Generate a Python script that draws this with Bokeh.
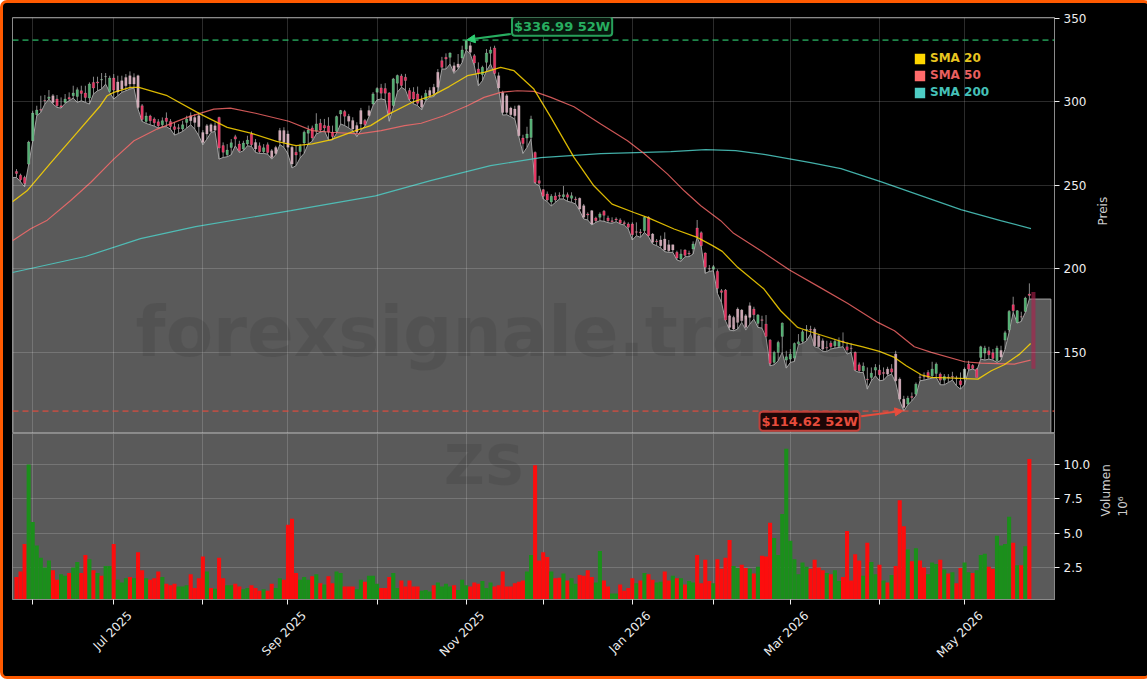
import math
from bokeh.embed import file_html
from bokeh.layouts import column
from bokeh.models import Arrow, FixedTicker, Label, Legend, LegendItem, LinearAxis, NormalHead, Range1d, Span
from bokeh.plotting import figure
from bokeh.resources import INLINE

opens = [258.3,256.1,254.7,262.7,276.7,292.3,295.4,300.9,302.0,303.7,
         301.7,297.7,299.7,302.7,303.7,303.3,306.7,305.3,302.3,311.7,
         312.0,313.1,315.1,306.3,314.3,312.0,312.7,314.7,315.7,314.7,
         315.7,297.7,288.3,291.5,289.7,288.1,286.3,290.3,288.3,285.1,
         284.5,283.7,287.7,291.7,290.7,291.7,281.7,285.7,286.3,285.7,
         290.7,273.8,268.3,272.7,279.1,274.7,271.7,274.7,280.7,275.7,
         273.7,270.1,274.3,270.7,272.7,282.8,282.8,280.8,272.8,269.8,
         270.2,275.4,281.2,284.4,282.4,287.2,285.8,285.6,281.8,282.4,
         292.8,294.2,291.4,288.8,285.8,294.8,288.8,294.8,298.8,305.8,
         308.4,308.0,305.4,297.8,311.2,315.6,314.8,306.8,306.0,304.8,
         301.2,301.2,306.8,308.8,317.8,324.7,326.7,326.7,321.7,322.7,
         326.3,331.5,333.7,327.7,319.7,316.3,323.7,329.1,332.3,315.7,
         305.7,303.7,296.3,295.7,297.7,278.3,278.3,278.7,269.7,252.8,
         247.4,244.8,240.0,243.6,244.0,243.2,244.4,242.2,241.8,242.2,
         237.8,232.8,234.8,230.4,230.8,234.4,230.4,228.8,229.8,229.2,
         227.6,226.8,226.8,222.2,222.0,222.8,230.8,220.8,216.6,217.2,
         217.8,214.4,214.4,209.8,205.8,211.2,209.2,211.8,224.4,221.6,
         209.4,200.0,199.6,198.4,186.8,187.2,171.8,170.8,175.8,175.2,
         171.8,177.8,175.8,167.2,169.4,166.8,157.2,143.8,149.8,159.4,
         145.2,145.8,146.4,154.8,156.4,163.2,163.6,163.8,159.8,156.8,
         152.8,155.4,153.8,153.4,156.6,153.2,152.4,149.8,142.4,138.8,
         133.8,134.8,139.2,139.2,137.8,139.8,140.0,148.8,133.8,121.8,
         118.8,123.4,124.8,135.0,135.4,137.8,135.8,137.2,136.8,133.2,
         135.0,135.4,134.4,132.8,134.4,142.8,142.0,139.8,146.8,149.4,
         150.8,149.6,144.8,151.0,157.2,163.2,178.4,167.8,171.2,174.4,
         184.8]
closes = [257.1,253.3,251.1,275.9,293.3,295.1,295.0,300.5,303.0,299.7,
          297.7,296.9,301.7,301.7,305.3,307.3,305.1,302.7,310.7,308.3,
          311.3,313.4,315.3,314.3,307.1,306.0,307.7,309.7,310.7,310.7,
          296.7,289.5,291.5,288.7,287.5,285.7,288.7,288.3,285.3,283.5,
          284.0,286.3,289.7,288.7,287.7,285.1,275.7,280.7,282.3,283.0,
          272.3,269.8,271.1,275.5,277.7,270.7,275.3,277.1,274.3,271.7,
          270.1,272.5,269.7,266.7,269.1,276.8,275.8,272.8,262.8,268.2,
          273.4,281.8,283.2,278.4,286.8,283.2,284.4,282.0,279.2,291.2,
          294.8,291.4,288.4,283.8,281.8,286.8,286.4,291.8,304.8,308.0,
          305.2,305.2,292.8,313.8,315.8,309.8,312.8,301.6,301.8,299.2,
          296.8,305.2,303.8,305.0,308.8,320.7,325.7,329.3,318.3,320.7,
          331.1,336.7,329.7,323.3,317.3,320.7,329.3,331.1,317.1,308.3,
          293.7,293.7,292.3,291.7,279.7,275.1,280.7,289.7,251.7,251.2,
          243.4,241.2,243.4,241.2,243.4,244.4,242.8,243.8,241.4,235.8,
          230.8,232.2,226.8,228.8,232.8,232.0,228.8,228.2,229.2,227.4,
          227.0,224.8,220.4,221.8,221.6,230.8,219.8,215.8,216.2,213.8,
          211.2,210.8,211.2,206.4,208.8,208.0,208.8,214.8,219.2,213.8,
          200.8,199.8,201.2,188.2,185.8,169.2,164.8,163.8,167.8,168.8,
          164.8,170.8,172.4,172.2,169.0,159.4,143.2,149.8,155.8,167.4,
          147.2,148.8,155.2,156.2,162.2,163.6,163.2,153.8,153.2,151.8,
          152.4,153.2,156.4,156.4,156.0,151.2,152.2,139.2,138.8,141.6,
          133.4,137.4,140.8,136.4,137.2,136.8,138.0,132.8,121.8,116.8,
          122.4,122.8,130.8,134.8,135.2,134.8,139.8,142.8,133.2,135.4,
          134.6,135.0,134.0,130.4,139.8,139.8,140.2,134.8,153.2,152.4,
          148.4,146.2,152.4,147.0,161.6,174.4,174.8,174.8,171.0,182.4,
          184.0]
highs = [259.7,257.0,255.7,276.7,294.7,297.7,303.7,304.1,307.1,304.7,
         304.1,302.7,304.7,305.7,309.7,308.7,309.7,309.7,311.7,315.1,
         315.1,317.3,317.3,315.7,316.7,315.7,315.7,316.7,318.3,317.1,
         316.3,298.7,293.7,292.3,290.7,289.7,290.7,293.7,289.7,287.7,
         286.7,288.7,291.7,293.7,292.7,293.7,283.1,286.7,287.1,287.7,
         291.1,275.7,274.7,277.7,280.3,276.7,276.7,279.7,282.3,277.7,
         275.7,274.7,275.7,271.7,273.7,284.4,284.8,282.8,273.8,273.8,
         274.8,282.8,285.8,285.8,293.2,289.8,289.8,290.8,285.8,291.8,
         295.2,295.2,292.8,290.8,287.8,296.4,289.8,297.8,305.8,308.8,
         310.8,311.2,305.8,314.4,316.4,316.8,316.8,308.4,308.8,309.2,
         303.8,307.2,308.8,310.8,319.7,327.0,329.1,329.7,323.7,328.7,
         333.7,336.99,335.7,328.7,323.7,321.7,331.7,333.1,333.7,317.7,
         306.7,304.7,297.1,297.7,298.3,280.3,285.1,291.7,270.3,255.7,
         247.7,246.3,244.7,245.7,245.8,249.6,245.7,245.8,243.2,242.7,
         238.8,233.8,235.2,231.2,233.8,235.2,231.8,230.8,230.8,230.2,
         228.8,227.8,227.8,227.8,223.8,231.4,231.4,221.4,217.8,219.8,
         221.8,217.2,214.4,210.8,211.6,211.6,210.8,216.4,229.2,222.4,
         209.8,202.2,202.2,199.6,187.8,187.8,172.8,171.8,176.8,175.8,
         172.8,179.8,177.2,172.8,171.8,172.2,157.8,150.8,156.8,167.8,
         150.8,151.8,155.8,160.8,163.2,166.2,165.8,164.8,160.8,158.2,
         156.8,156.8,157.8,158.8,161.8,155.8,155.2,150.4,143.8,143.8,
         140.8,140.8,142.8,142.4,140.8,141.2,142.8,150.8,134.8,123.8,
         123.8,125.8,131.8,136.8,137.8,139.2,144.2,143.8,137.8,136.8,
         136.8,138.2,135.8,137.8,140.8,144.8,142.8,140.4,153.8,153.8,
         153.2,151.8,153.8,153.8,162.8,175.2,183.2,175.2,174.2,183.2,
         191.2]
lows = [254.7,252.1,249.1,262.3,276.3,291.7,293.7,298.7,301.7,298.7,
        296.7,296.3,299.1,300.7,302.3,299.7,300.7,299.7,298.7,304.7,
        306.7,307.7,310.7,305.7,301.7,303.7,305.7,306.7,307.7,308.3,
        295.7,288.3,287.1,286.3,285.5,284.3,285.1,285.1,283.7,280.1,
        281.1,282.3,284.3,286.3,283.7,279.7,274.3,277.7,281.7,282.3,
        265.7,266.7,267.1,268.3,273.7,269.7,270.7,273.7,273.3,269.7,
        269.1,269.1,268.7,265.7,268.3,274.4,272.8,268.8,260.4,261.8,
        266.4,269.2,274.8,276.4,280.8,281.8,282.8,277.2,277.2,281.2,
        286.8,285.8,284.4,282.8,279.2,282.8,285.6,291.2,297.8,301.2,
        301.8,301.2,288.4,296.8,305.8,308.8,307.2,300.8,298.8,297.8,
        295.2,300.8,302.8,303.2,306.4,319.7,319.7,322.7,317.1,319.7,
        323.7,331.1,328.7,321.7,309.7,312.7,318.7,322.7,316.7,307.7,
        292.1,292.3,291.1,289.7,279.1,269.1,272.7,277.7,251.1,249.8,
        241.8,240.2,237.6,239.7,241.8,241.8,240.4,239.8,238.8,234.8,
        229.8,229.2,226.2,227.8,228.8,228.4,227.6,227.2,228.2,226.8,
        226.2,223.8,217.2,219.8,218.8,221.8,219.2,214.8,213.8,212.4,
        210.2,209.8,209.8,205.2,204.4,207.2,207.2,208.8,218.8,213.2,
        197.2,198.4,198.8,185.2,179.8,168.8,163.2,162.8,163.8,167.8,
        163.2,166.8,169.8,164.8,164.4,158.8,141.8,142.4,144.8,149.8,
        140.4,143.8,144.4,154.4,155.2,156.8,160.8,153.2,152.4,150.4,
        150.4,151.8,152.4,152.8,153.2,148.8,149.8,138.8,137.8,137.8,
        127.8,132.8,135.8,132.8,133.2,135.8,136.8,131.8,120.8,114.62,
        118.4,120.8,123.8,132.8,133.2,133.8,134.4,134.8,130.4,130.4,
        131.8,133.2,129.8,127.8,130.4,139.2,139.8,138.8,145.8,145.2,
        145.8,145.2,143.8,145.2,151.8,161.8,173.8,167.4,168.4,173.8,
        181.8]
pale_bars = [9,25,26,27,28,29,30,43,44,45,46,47,48,49,59,63,64,65,66,67,68,
             82,83,84,85,87,100,102,103,104,108,109,112,119,120,121,122,123,124,
             139,140,142,157,159,160,161,162,176,177,178,179,180,181,197,198,199,
             215,217,218,219,234,243]

volumes = [1.8,2.2,4.2,10.0,5.8,4.1,3.2,2.5,3.0,2.3,
           1.6,2.0,1.9,2.1,2.5,2.9,2.1,3.4,3.1,2.3,
           2.1,1.9,2.6,2.6,4.2,1.6,1.4,1.7,1.8,1.7,
           3.6,2.3,1.7,1.6,1.7,2.2,1.8,1.3,1.2,1.3,
           1.1,1.1,1.2,2.0,1.0,1.7,3.3,2.2,1.0,0.95,
           3.2,1.7,1.2,1.2,1.3,1.1,0.9,1.0,1.2,1.0,
           0.8,0.9,0.8,1.3,1.0,1.7,1.6,5.6,6.05,2.1,
           1.6,1.8,1.6,1.85,2.0,1.35,1.25,1.85,1.35,2.2,
           2.1,1.1,1.1,1.1,0.9,1.6,1.45,1.9,1.9,1.3,
           1.0,1.0,1.8,2.1,1.0,1.55,1.1,1.55,1.1,1.1,
           0.8,0.85,0.75,1.2,1.4,1.1,1.3,1.1,1.2,0.85,
           1.6,1.2,1.1,1.4,1.3,1.5,1.0,1.4,1.1,1.2,
           2.2,1.1,1.1,1.35,1.45,1.55,2.2,3.4,9.95,3.0,
           3.6,3.25,2.2,1.7,1.75,2.05,1.55,1.7,1.3,1.95,
           1.9,2.3,1.8,1.4,3.7,1.55,1.1,0.6,0.6,1.25,
           0.8,1.0,1.7,1.35,1.55,2.1,2.0,1.6,1.4,1.45,
           2.2,1.55,1.9,1.7,1.7,1.25,1.5,1.4,3.4,1.35,
           3.05,1.5,1.35,3.1,2.4,3.2,4.5,2.6,2.45,2.7,
           2.45,2.4,2.05,2.55,3.35,3.3,5.75,4.65,3.4,6.4,
           11.15,4.45,3.1,2.0,2.85,2.55,2.4,3.05,2.5,2.3,
           2.1,2.0,2.3,1.5,1.8,5.15,1.55,3.45,3.0,1.9,
           4.3,2.9,2.0,2.7,1.55,1.4,1.95,2.6,7.4,5.5,
           3.8,2.95,3.9,3.0,2.5,2.0,2.85,2.75,3.05,2.35,
           2.05,2.15,1.35,2.45,2.85,2.15,2.1,2.3,3.4,3.5,
           2.55,2.4,4.8,4.1,4.2,6.2,4.3,2.65,2.65,4.05,
           10.4]
vol_up = [0,0,0,1,1,1,1,1,1,0, 0,1,1,0,1,1,0,0,1,0, 1,0,1,1,0,1,1,1,0,1,
          0,0,1,0,0,0,1,0,0,0, 1,1,1,0,0,0,0,1,0,1, 0,0,1,1,0,0,1,1,0,0,
          0,1,0,0,1,1,0,0,0,0, 1,1,1,0,1,0,1,0,0,1, 1,0,0,0,1,1,0,1,1,1,
          0,0,0,1,1,0,0,0,0,0, 1,1,1,0,1,1,1,1,0,1, 1,1,0,0,0,1,1,1,0,0,
          0,0,0,0,0,0,1,1,0,0, 0,0,1,0,0,1,0,1,1,0, 0,0,0,1,1,0,0,1,1,0,
          0,0,0,1,0,1,0,0,1,1, 0,0,1,0,1,0,1,1,0,0, 0,0,1,0,0,0,0,1,1,0,
          0,1,0,1,0,0,0,1,1,1, 1,1,1,1,1,1,0,0,0,0, 1,0,1,1,0,0,0,0,0,1,
          0,1,1,0,1,0,1,0,0,0, 1,0,1,0,0,1,1,1,0,1, 0,1,0,0,1,1,0,1,1,1,
          0,0,1,1,1,1,0,1,0,1,0]

sma20_x = [-1,2.6,8.4,15,20.7,22.4,24,28.1,30.2,37.2,45.4,52,57.8,64.2,69,73,77.5,83.7,87.4,92,
           97.7,102.6,106.8,111.3,115.4,119.5,122.8,127.7,131.9,137.6,142.5,147,152.4,155.7,162.3,
           168,171.8,174.2,178,184.5,188.6,192.8,195.2,204.3,208.9,213,216.7,219.6,223.3,225.8,
           231.5,237.3,240.6,243.8,247.6,250.3]
sma20 = [240.1,246.7,263.3,281.7,297.7,303.7,305.7,308.7,308.7,303.7,292.7,284.7,281.3,276.4,273.8,274.8,277.2,282.8,285.8,292.8,
         299.8,303.8,309.2,315.7,317.7,320.7,318.7,307.7,290.7,266.7,249.7,238.7,233.7,230.8,223.8,
         218.8,213.8,210.4,200.8,187.8,174.8,164.8,162.8,155.8,153.2,150.4,146.8,141.8,136.4,134.8,
         134.4,133.8,138.8,142.4,148.8,155.2]
sma50_x = [-1,3.5,7.6,13.3,18.3,24,29,34.7,42.1,48.7,52.8,59,67.2,73,77.5,84.5,90,95.8,99.9,105.5,111.3,
           115.4,119.5,123.6,127.7,131.9,137.6,144.2,150.8,154.9,160.7,164.8,168.9,173.8,177,184.3,190.8,198.3,
           205.2,212.6,216.7,221.6,225.8,234,238.1,246.3,250.3]
sma50 = [216.8,224,229.1,240.7,251.7,265.7,276.7,283.7,290.7,295.7,296.3,293.2,288.4,282.8,281.8,280.8,282.8,285.8,287.2,291.7,297.7,
         302.7,305.7,306.7,306.3,302.7,297.1,286.7,276.7,269.1,256.7,246.7,237.7,228.8,221.2,209.8,199.2,188.8,
         179.2,167.8,162.8,153.2,149.8,144.2,143.4,142.8,145.2]
sma200_x = [-1,17,30.6,44.2,67.7,88.6,102.2,117,129.4,144.2,161.5,170.1,177.5,184.9,196,203.5,213.3,223.2,233.1,242.9,250.4]
sma200 = [197.7,207.3,218,225.2,234.8,243.7,252.8,261.8,266.6,269,270.2,271.4,270.8,268.4,263.6,260,252.2,243.8,235.4,228.8,224]

month_ticks = [4,24,46,67,89,111,130,152,172,191,213,234]
month_labels = {24:"Jul 2025",67:"Sep 2025",111:"Nov 2025",152:"Jan 2026",191:"Mar 2026",234:"May 2026"}

FONT = "DejaVu Sans"
n = len(closes)
xs = list(range(n))

x_range = Range1d(-0.987, 256.2)

def style(p):
    p.outline_line_color = "#8a8a8a"
    p.background_fill_color = "black"
    p.border_fill_color = "black"
    p.grid.grid_line_color = "white"
    p.grid.grid_line_alpha = 0.17
    p.yaxis.axis_line_color = "#8a8a8a"
    p.yaxis.major_tick_line_color = "#eeeeee"
    p.yaxis.major_tick_out = 5
    p.yaxis.major_tick_in = 0
    p.yaxis.minor_tick_line_color = None
    p.yaxis.major_label_text_color = "#eeeeee"
    p.yaxis.major_label_text_font = FONT
    p.yaxis.major_label_text_font_size = "12px"
    p.yaxis.major_label_standoff = 4
    p.yaxis.axis_label_text_color = "#cccccc"
    p.yaxis.axis_label_text_font = FONT
    p.yaxis.axis_label_text_font_size = "12px"
    p.yaxis.axis_label_text_font_style = "normal"
    p.yaxis.axis_label_orientation = math.pi/2

# price panel
p = figure(width=1141, height=430, frame_width=1042, frame_height=416, x_range=x_range, y_range=Range1d(101.2, 350.6),
           y_axis_location="right", output_backend="svg", toolbar_location=None,
           min_border_left=9, min_border_right=90, min_border_top=14, min_border_bottom=0)
style(p)
p.xaxis.visible = False
p.xaxis.ticker = FixedTicker(ticks=month_ticks)
p.yaxis.ticker = FixedTicker(ticks=[150,200,250,300,350])
p.yaxis.axis_label = "Preis"
p.yaxis.axis_label_standoff = 14
p.grid.level = "glyph"

area_x = [x_range.start+0.1] + xs + [255.3, 255.3, x_range.start+0.1]
area_y = [lows[0]] + lows + [lows[-1], 101.6, 101.6]
area = p.patch(area_x, area_y, fill_color="#5a5a5a", line_color="#a0a0a0", line_width=1)
area.level = "underlay"

p.segment(xs, lows, xs, highs, line_color="#aaaaaa", line_width=0.8)
body_colors = []
for i in xs:
    if i in pale_bars:
        body_colors.append("#cfa6b4" if closes[i] < opens[i] else "#b4c8ba")
    else:
        body_colors.append("#4fae70" if closes[i] >= opens[i] else "#e6305f")
p.vbar(xs, 0.6, opens, closes, fill_color=body_colors, line_color="#e6dede", line_alpha=0.4, line_width=0.5)

p.line(sma200_x, sma200, line_color="#4ECDC4", line_width=1.2, line_alpha=0.85)
p.line(sma50_x, sma50, line_color="#FF6B6B", line_width=1.2, line_alpha=0.8)
p.line(sma20_x, sma20, line_color="#FFD700", line_width=1.3, line_alpha=0.85)

# bar behind the last candle
p.vbar([251],[1.0],[186],[140],fill_color="#b0204c",fill_alpha=0.6,line_color=None)

p.add_layout(Span(location=336.99, dimension="width", line_color="#2ecc71", line_alpha=0.65, line_width=1.8, line_dash="6 4"))
p.add_layout(Span(location=114.62, dimension="width", line_color="#e74c3c", line_alpha=0.65, line_width=1.8, line_dash="6 4"))

p.add_layout(Arrow(end=NormalHead(size=8, fill_color="#2ecc71", line_color="#2ecc71"),
                   x_start=122, y_start=340.7, x_end=111.2, y_end=337.2,
                   line_color="#27ae60", line_width=2))
p.add_layout(Arrow(end=NormalHead(size=8, fill_color="#e74c3c", line_color="#e74c3c"),
                   x_start=208.5, y_start=111.5, x_end=218.8, y_end=114.8,
                   line_color="#e74c3c", line_width=2))

p.add_layout(Label(x=122.3, y=345.3, text="$336.99 52W", text_color="#27ae60", text_font=FONT,
                   text_font_size="13px", text_font_style="bold", text_baseline="middle",
                   background_fill_color="#07160d", border_line_color="#27a05a", border_line_width=2,
                   padding=2, border_radius=3))
p.add_layout(Label(x=183.4, y=108.6, text="$114.62 52W", text_color="#e74c3c", text_font=FONT,
                   text_font_size="13px", text_font_style="bold", text_baseline="middle",
                   background_fill_color="#1c0606", border_line_color="#c0403a", border_line_width=2,
                   padding=2, border_radius=3))

p.add_layout(Label(x=29.4, y=162.3, text="forexsignale.trade", text_color="black", text_alpha=0.08,
                   text_font=FONT, text_font_size="69px", text_font_style="bold",
                   text_align="left", text_baseline="alphabetic"))

# legend, one per entry so each text has its own colour
legend_names = ["SMA 20","SMA 50","SMA 200"]
legend_colors = ["#FFD700","#FF6B6B","#4ECDC4"]
legend_text = ["#e8c520","#e85f5f","#45c0b8"]
legend_y = [368,351,334]
for name,c,tc,ly in zip(legend_names,legend_colors,legend_text,legend_y):
    r = p.quad(left=[float("nan")],right=[float("nan")],top=[float("nan")],bottom=[float("nan")],fill_color=c,line_color=None)
    lg = Legend(items=[LegendItem(label=name,renderers=[r])], location=(901,ly), background_fill_alpha=0,
                border_line_color=None, padding=0, margin=0, spacing=0, glyph_width=13, glyph_height=13,
                label_standoff=4, label_text_color=tc, label_text_font=FONT, label_text_font_size="12px",
                label_text_font_style="bold", label_height=13)
    p.add_layout(lg)

# volume panel
v = figure(width=1141, height=243, frame_width=1042, frame_height=166, x_range=x_range, y_range=Range1d(0.16, 12.26),
           y_axis_location="right", output_backend="svg", toolbar_location=None,
           min_border_left=9, min_border_right=90, min_border_top=0, min_border_bottom=77)
style(v)
v.background_fill_color = "#5a5a5a"
v.yaxis.ticker = FixedTicker(ticks=[2.5,5,7.5,10])
v.yaxis.major_label_overrides = {2.5:"2.5",5:"5.0",7.5:"7.5",10:"10.0"}
v.yaxis.axis_label = "Volumen\n10⁶"
v.yaxis.axis_label_standoff = 21
v.xaxis.ticker = FixedTicker(ticks=month_ticks)
v.xaxis.major_label_overrides = {t:"" for t in month_ticks}
v.xaxis.major_label_standoff = 0
v.xaxis.axis_line_color = "#8a8a8a"
v.xaxis.major_tick_line_color = "#eeeeee"
v.xaxis.major_tick_out = 5
v.xaxis.major_tick_in = 0
v.xaxis.minor_tick_line_color = None

# month names go on a second axis, its ticks moved so the turned text is centred on the real ticks
LABEL_SHIFT = 4
shifted = {t+LABEL_SHIFT: name for t,name in month_labels.items()}
label_axis = LinearAxis(ticker=FixedTicker(ticks=list(shifted)), major_label_overrides=shifted,
                        major_label_orientation=math.pi/4, major_label_text_color="#eeeeee",
                        major_label_text_font=FONT, major_label_text_font_size="12px",
                        major_label_standoff=3, axis_line_color=None, major_tick_line_color=None,
                        minor_tick_line_color=None)
v.add_layout(label_axis, "below")

vol_colors = ["#1b8f1b" if u else "#fc0d0d" for u in vol_up]
v.vbar(xs, 1.0, volumes, 0, fill_color=vol_colors, line_color=None)

v.add_layout(Label(x=115.5, y=10, text="ZS", text_color="black", text_alpha=0.08,
                   text_font=FONT, text_font_size="56px", text_font_style="bold",
                   text_align="center", text_baseline="middle"))

page = column(p, v, spacing=0,
              styles={"position":"absolute","left":"0px","top":"0px","box-sizing":"content-box",
                      "border":"3px solid #ff5a00","border-radius":"7px","overflow":"hidden","background":"black"})

open("out.html", "w").write(file_html(page, INLINE))
